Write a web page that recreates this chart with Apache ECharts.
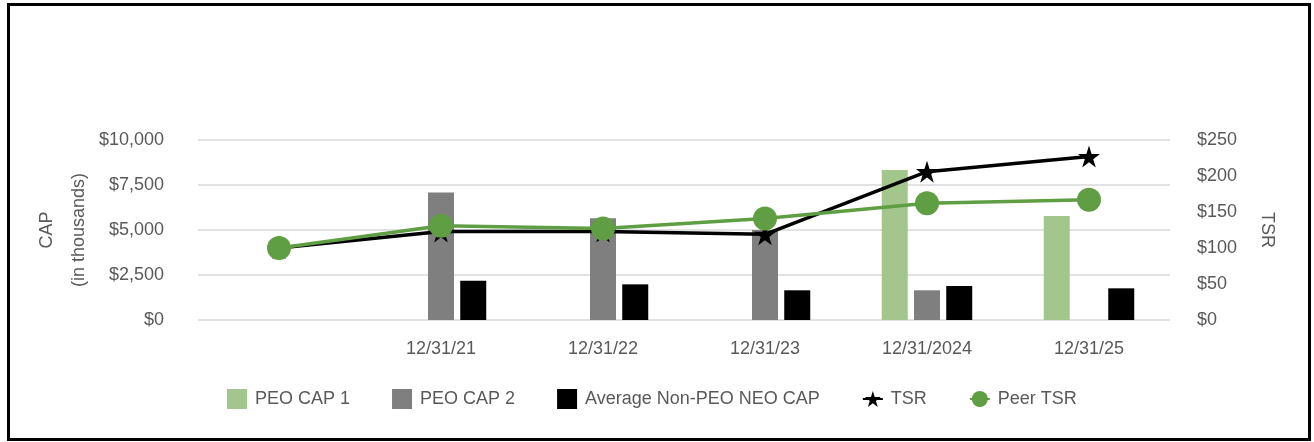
<!DOCTYPE html>
<html>
<head>
<meta charset="utf-8">
<script src="https://cdn.jsdelivr.net/npm/echarts@6/dist/echarts.min.js"></script>
<style>
	html, body { margin: 0; padding: 0; background: #fff; }
	#chart { width: 1314px; height: 442px; }
	#frame { position: absolute; left: 7px; top: 3px; width: 1298px; height: 432px; border: 3px solid #000; pointer-events: none; }
</style>
</head>
<body>
<div id="chart"></div>
<div id="frame"></div>
<script>
// categories and values (CAP in thousands, TSR in $)
var categories = ['', '12/31/21', '12/31/22', '12/31/23', '12/31/2024', '12/31/25'];
var peoCap1 = [null, null, null, null, 8330, 5780];
var peoCap2 = [null, 7090, 5650, 5000, 1650, null];
var avgNonPeo = [null, 2180, 1980, 1650, 1890, 1760];
var tsr = [100, 123, 123, 119, 206, 227];
var peerTsr = [100, 131, 127, 141, 162, 167];
var capTicks = [0, 10000, 2500];
var tsrTicks = [0, 250, 50];
var capTitle = 'CAP\n(in thousands)';

var font = "'Liberation Sans', Arial, sans-serif";
var txt = '#595959';
var starPath = 'path://M50,0 L61.23,34.55 L97.55,34.55 L68.16,55.9 L79.39,90.45 L50,69.1 L20.61,90.45 L31.84,55.9 L2.45,34.55 L38.77,34.55 Z';

var chart = echarts.init(document.getElementById('chart'));
var option = {
	animation: false,
	textStyle: { fontFamily: font },
	grid: { left: 198, right: 144, top: 140, bottom: 122 },
	// left axis title, placed by hand
	graphic: [{
		type: 'text',
		x: 63,
		y: 230,
		rotation: Math.PI / 2,
		style: {
			text: capTitle,
			fill: txt,
			fontSize: 18,
			fontFamily: font,
			lineHeight: 32,
			align: 'center',
			verticalAlign: 'middle'
		}
	}],
	legend: {
		left: 222,
		top: 384,
		itemWidth: 20,
		itemHeight: 20,
		itemGap: 42,
		textStyle: { fontSize: 18, color: txt, fontFamily: font, padding: [0, 0, 0, 3] },
		data: [
			{ name: 'PEO CAP 1', icon: 'rect' },
			{ name: 'PEO CAP 2', icon: 'rect' },
			{ name: 'Average Non-PEO NEO CAP', icon: 'rect' },
			'TSR',
			'Peer TSR'
		]
	},
	xAxis: {
		type: 'category',
		data: categories,
		axisLine: { show: false },
		axisTick: { show: false },
		axisLabel: { fontSize: 18, color: txt, margin: 20 }
	},
	yAxis: [{
		type: 'value',
		min: capTicks[0],
		max: capTicks[1],
		interval: capTicks[2],
		axisLabel: {
			fontSize: 18, color: txt, margin: 34,
			formatter: function(v) { return '$' + v.toLocaleString('en-US'); }
		},
		splitLine: { lineStyle: { color: '#d9d9d9', width: 1.5 } }
	}, {
		type: 'value',
		min: tsrTicks[0],
		max: tsrTicks[1],
		interval: tsrTicks[2],
		name: 'TSR',
		nameLocation: 'middle',
		nameRotate: -90,
		nameGap: 88,
		nameTextStyle: { fontSize: 18, color: txt },
		axisLabel: {
			fontSize: 18, color: txt, margin: 27,
			formatter: function(v) { return '$' + v; }
		},
		splitLine: { show: false }
	}],
	series: [{
		name: 'PEO CAP 1',
		type: 'bar',
		data: peoCap1,
		barWidth: 26,
		barGap: '24%',
		itemStyle: { color: '#a3c68c' }
	}, {
		name: 'PEO CAP 2',
		type: 'bar',
		data: peoCap2,
		barWidth: 26,
		barGap: '24%',
		itemStyle: { color: '#7f7f7f' }
	}, {
		name: 'Average Non-PEO NEO CAP',
		type: 'bar',
		data: avgNonPeo,
		barWidth: 26,
		barGap: '24%',
		itemStyle: { color: '#000000' }
	}, {
		name: 'TSR',
		type: 'line',
		yAxisIndex: 1,
		data: tsr,
		symbol: starPath,
		symbolSize: 22,
		lineStyle: { color: '#000', width: 3.5 },
		itemStyle: { color: '#000' },
		z: 3
	}, {
		name: 'Peer TSR',
		type: 'line',
		yAxisIndex: 1,
		data: peerTsr,
		symbol: 'circle',
		symbolSize: 24,
		lineStyle: { color: '#5f9e43', width: 3.5 },
		itemStyle: { color: '#5f9e43' },
		z: 4
	}]
};
chart.setOption(option);
</script>
</body>
</html>
